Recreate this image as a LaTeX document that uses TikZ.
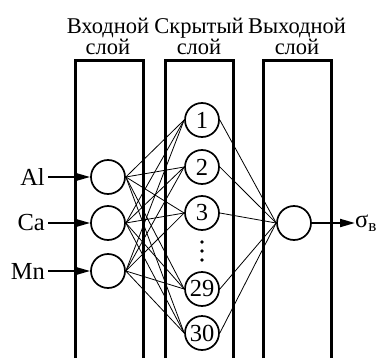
\documentclass[tikz,border=0pt]{standalone}
\usepackage{fontspec}
\setmainfont{Liberation Serif}
\usetikzlibrary{arrows.meta}

\tikzset{
  neuron/.style={draw, circle, line width=1.7pt, minimum size=34pt, inner sep=0pt},
  layerbox/.style={line width=3pt, line join=miter},
  link/.style={line width=0.8pt},
  feed/.style={line width=2pt, -{Triangle[length=15pt,width=8pt]}},
  title/.style={align=center, inner sep=0pt, font=\fontsize{22.5}{21}\selectfont}
}

\begin{document}
\begin{tikzpicture}[x=1pt, y=-1pt, font=\fontsize{24.5}{22}\selectfont]
		%%%%% START %%%%%
		\useasboundingbox (0,0) rectangle (379,358);
		
		% layers
		\draw[layerbox] (75,358) -- (75,61) -- (143,61) -- (143,358);
		\draw[layerbox] (165,358) -- (165,61) -- (233,61) -- (233,358);
		\draw[layerbox] (263,358) -- (263,61) -- (331,61) -- (331,358);
		
		\node[title] (tin) at (108,36) {Входной\\слой};
		\node[title] (thid) at (199,36) {Скрытый\\слой};
		\node[title] (tout) at (297,36) {Выходной\\слой};
		
		% input layer
		\foreach \name/\y in {al/177, ca/223, mn/271}
			\node[neuron] (\name) at (108,\y) {};
		
		% hidden layer
		\foreach \k/\y in {1/120, 2/167, 3/213, 29/289, 30/333}
			\node[neuron] (h\k) at (202,\y) {\k};
		\foreach \y in {242, 251, 260}
			\fill (202,\y) circle (1.8);
		
		% output layer
		\node[neuron] (out) at (294,223) {};
		
		% links
		\foreach \i in {al, ca, mn}
			\foreach \k in {1, 2, 3, 29, 30}
				\draw[link] (\i.east) -- (h\k.west);
		\foreach \k in {1, 2, 3, 29, 30}
			\draw[link] (h\k.east) -- (out.west);
		
		% inputs and output
		\node[anchor=east, inner sep=0pt] (lal) at (45,177) {Al};
		\node[anchor=east, inner sep=0pt] (lca) at (45,223) {Ca};
		\node[anchor=east, inner sep=0pt] (lmn) at (45,271) {Mn};
		\draw[feed] (lal.east) ++(3,0) coordinate (sal) -- (al.west);
		\draw[feed] (lca.east) ++(3,0) coordinate (sca) -- (ca.west);
		\draw[feed] (lmn.east) ++(3,0) coordinate (smn) -- (mn.west);
		
		\node[anchor=west, inner sep=0pt] (sigma) at (355,223) {σ\textsubscript{в}};
		\draw[feed] (out.east) -- (sigma.west);
		
		%%%%% END %%%%%
\end{tikzpicture}
\end{document}
